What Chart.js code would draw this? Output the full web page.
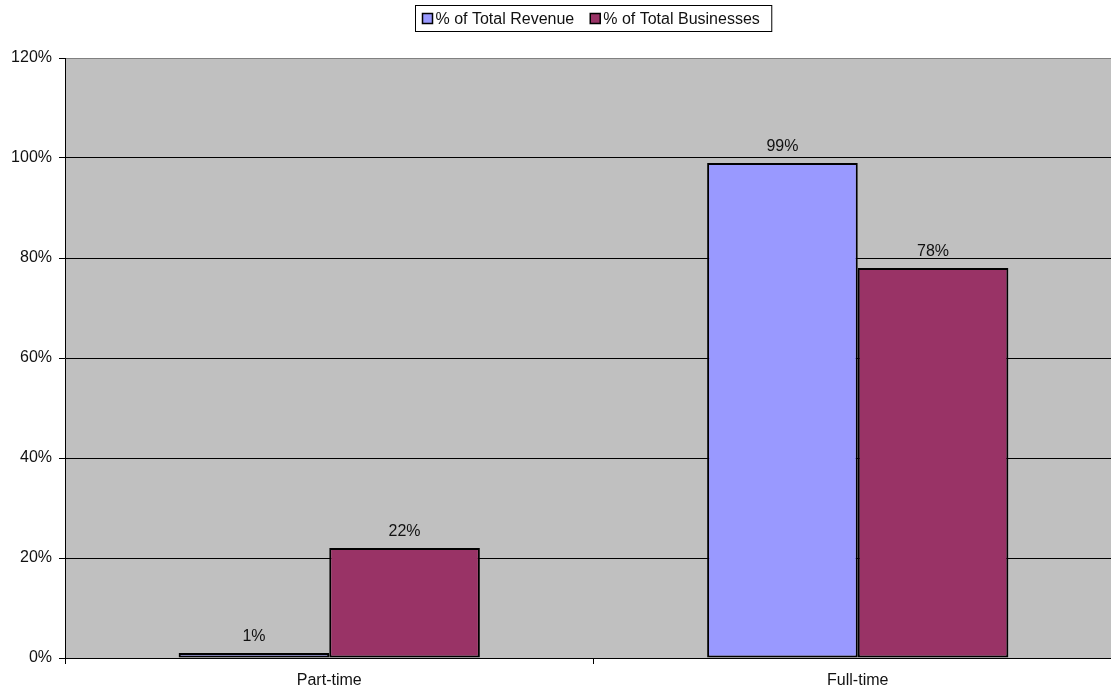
<!DOCTYPE html>
<html>
<head>
<meta charset="utf-8">
<title>Revenue and businesses by status</title>
<script src="https://cdn.jsdelivr.net/npm/chart.js@4.4.1/dist/chart.umd.min.js"></script>
<style>
    html, body { margin: 0; padding: 0; background: #fff; overflow: hidden; }
    #wrap { position: relative; width: 1122px; height: 692px; }
</style>
</head>
<body>
<div id="wrap"><canvas id="statusChart"></canvas></div>
<script>
// Share of revenue vs share of businesses, split by part-time / full-time
const categories = ['Part-time', 'Full-time'];
const seriesNames = ['% of Total Revenue', '% of Total Businesses'];
const revenueShare = [1, 99];
const businessShare = [22, 78];
const yTicks = [0, 20, 40, 60, 80, 100, 120];

const FONT = '"Liberation Sans", Arial, sans-serif';
const seriesColors = ['#9999FF', '#993366'];

// grey plot background
const plotBackground = {
    id: 'plotBackground',
    beforeDraw(chart) {
        const { ctx, chartArea: a } = chart;
        ctx.save();
        ctx.fillStyle = '#C0C0C0';
        ctx.fillRect(a.left, a.top, a.right - a.left, a.bottom - a.top);
        ctx.restore();
    }
};

// value labels above each bar
const barLabels = {
    id: 'barLabels',
    afterDatasetsDraw(chart) {
        const ctx = chart.ctx;
        ctx.save();
        ctx.font = '16px ' + FONT;
        ctx.fillStyle = '#111';
        ctx.textAlign = 'center';
        ctx.textBaseline = 'middle';
        chart.data.datasets.forEach((ds, i) => {
            chart.getDatasetMeta(i).data.forEach((bar, j) => {
                ctx.fillText(ds.data[j] + '%', bar.x, bar.y - 16);
            });
        });
        ctx.restore();
    }
};

// boxed legend centred over the plot
const boxedLegend = {
    id: 'boxedLegend',
    afterDraw(chart) {
        const { ctx, chartArea: a } = chart;
        const marker = 10, gap = 3, between = 16, padL = 7, padR = 12;
        ctx.save();
        ctx.font = '16px ' + FONT;
        const widths = chart.data.datasets.map(ds => ctx.measureText(ds.label).width);
        let total = padL + padR + between * (widths.length - 1);
        widths.forEach(w => { total += marker + gap + w; });
        const cx = (a.left + a.right) / 2;
        const x0 = Math.round(cx - total / 2) + 0.5;
        const top = 5.5, h = 26;
        ctx.strokeStyle = '#000';
        ctx.lineWidth = 1;
        ctx.fillStyle = '#fff';
        ctx.fillRect(x0, top, total, h);
        ctx.strokeRect(x0, top, total, h);
        let x = x0 + padL;
        const mid = top + h / 2;
        chart.data.datasets.forEach((ds, i) => {
            ctx.fillStyle = ds.backgroundColor;
            ctx.fillRect(x, mid - marker / 2, marker, marker);
            ctx.lineWidth = 1.5;
            ctx.strokeRect(x, mid - marker / 2, marker, marker);
            x += marker + gap;
            ctx.fillStyle = '#111';
            ctx.textBaseline = 'middle';
            ctx.fillText(ds.label, x, mid + 1);
            x += widths[i] + between;
        });
        ctx.restore();
    }
};

new Chart(document.getElementById('statusChart'), {
    type: 'bar',
    data: {
        labels: categories,
        datasets: [
            { label: seriesNames[0], data: revenueShare, backgroundColor: seriesColors[0] },
            { label: seriesNames[1], data: businessShare, backgroundColor: seriesColors[1] }
        ].map(ds => ({
            ...ds,
            borderColor: '#000',
            borderWidth: 2,
            borderSkipped: false,
            categoryPercentage: 0.57,
            barPercentage: 1.0
        }))
    },
    options: {
        responsive: true,
        maintainAspectRatio: false,
        animation: false,
        layout: { padding: { top: 58, left: 0, right: 0, bottom: 0 } },
        plugins: {
            legend: { display: false },
            tooltip: { enabled: false }
        },
        scales: {
            x: {
                afterFit(scale) { scale.height = 34; },
                grid: {
                    offset: true,
                    drawOnChartArea: false,
                    drawTicks: true,
                    tickLength: 6,
                    tickColor: '#000'
                },
                border: { color: '#000', width: 1 },
                ticks: {
                    color: '#111',
                    padding: 7,
                    font: { family: FONT, size: 16 }
                }
            },
            y: {
                min: yTicks[0],
                max: yTicks[yTicks.length - 1],
                afterFit(scale) { scale.width = 65; },
                afterBuildTicks(scale) { scale.ticks = yTicks.map(v => ({ value: v })); },
                grid: {
                    color: ctx => (ctx.tick && ctx.tick.value === 120 ? '#808080' : '#000'),
                    lineWidth: 1,
                    tickLength: 6,
                    tickColor: '#000'
                },
                border: { color: '#000', width: 1 },
                ticks: {
                    color: '#111',
                    padding: 7,
                    font: { family: FONT, size: 16 },
                    callback: v => v + '%'
                }
            }
        }
    },
    plugins: [plotBackground, barLabels, boxedLegend]
});
</script>
</body>
</html>
